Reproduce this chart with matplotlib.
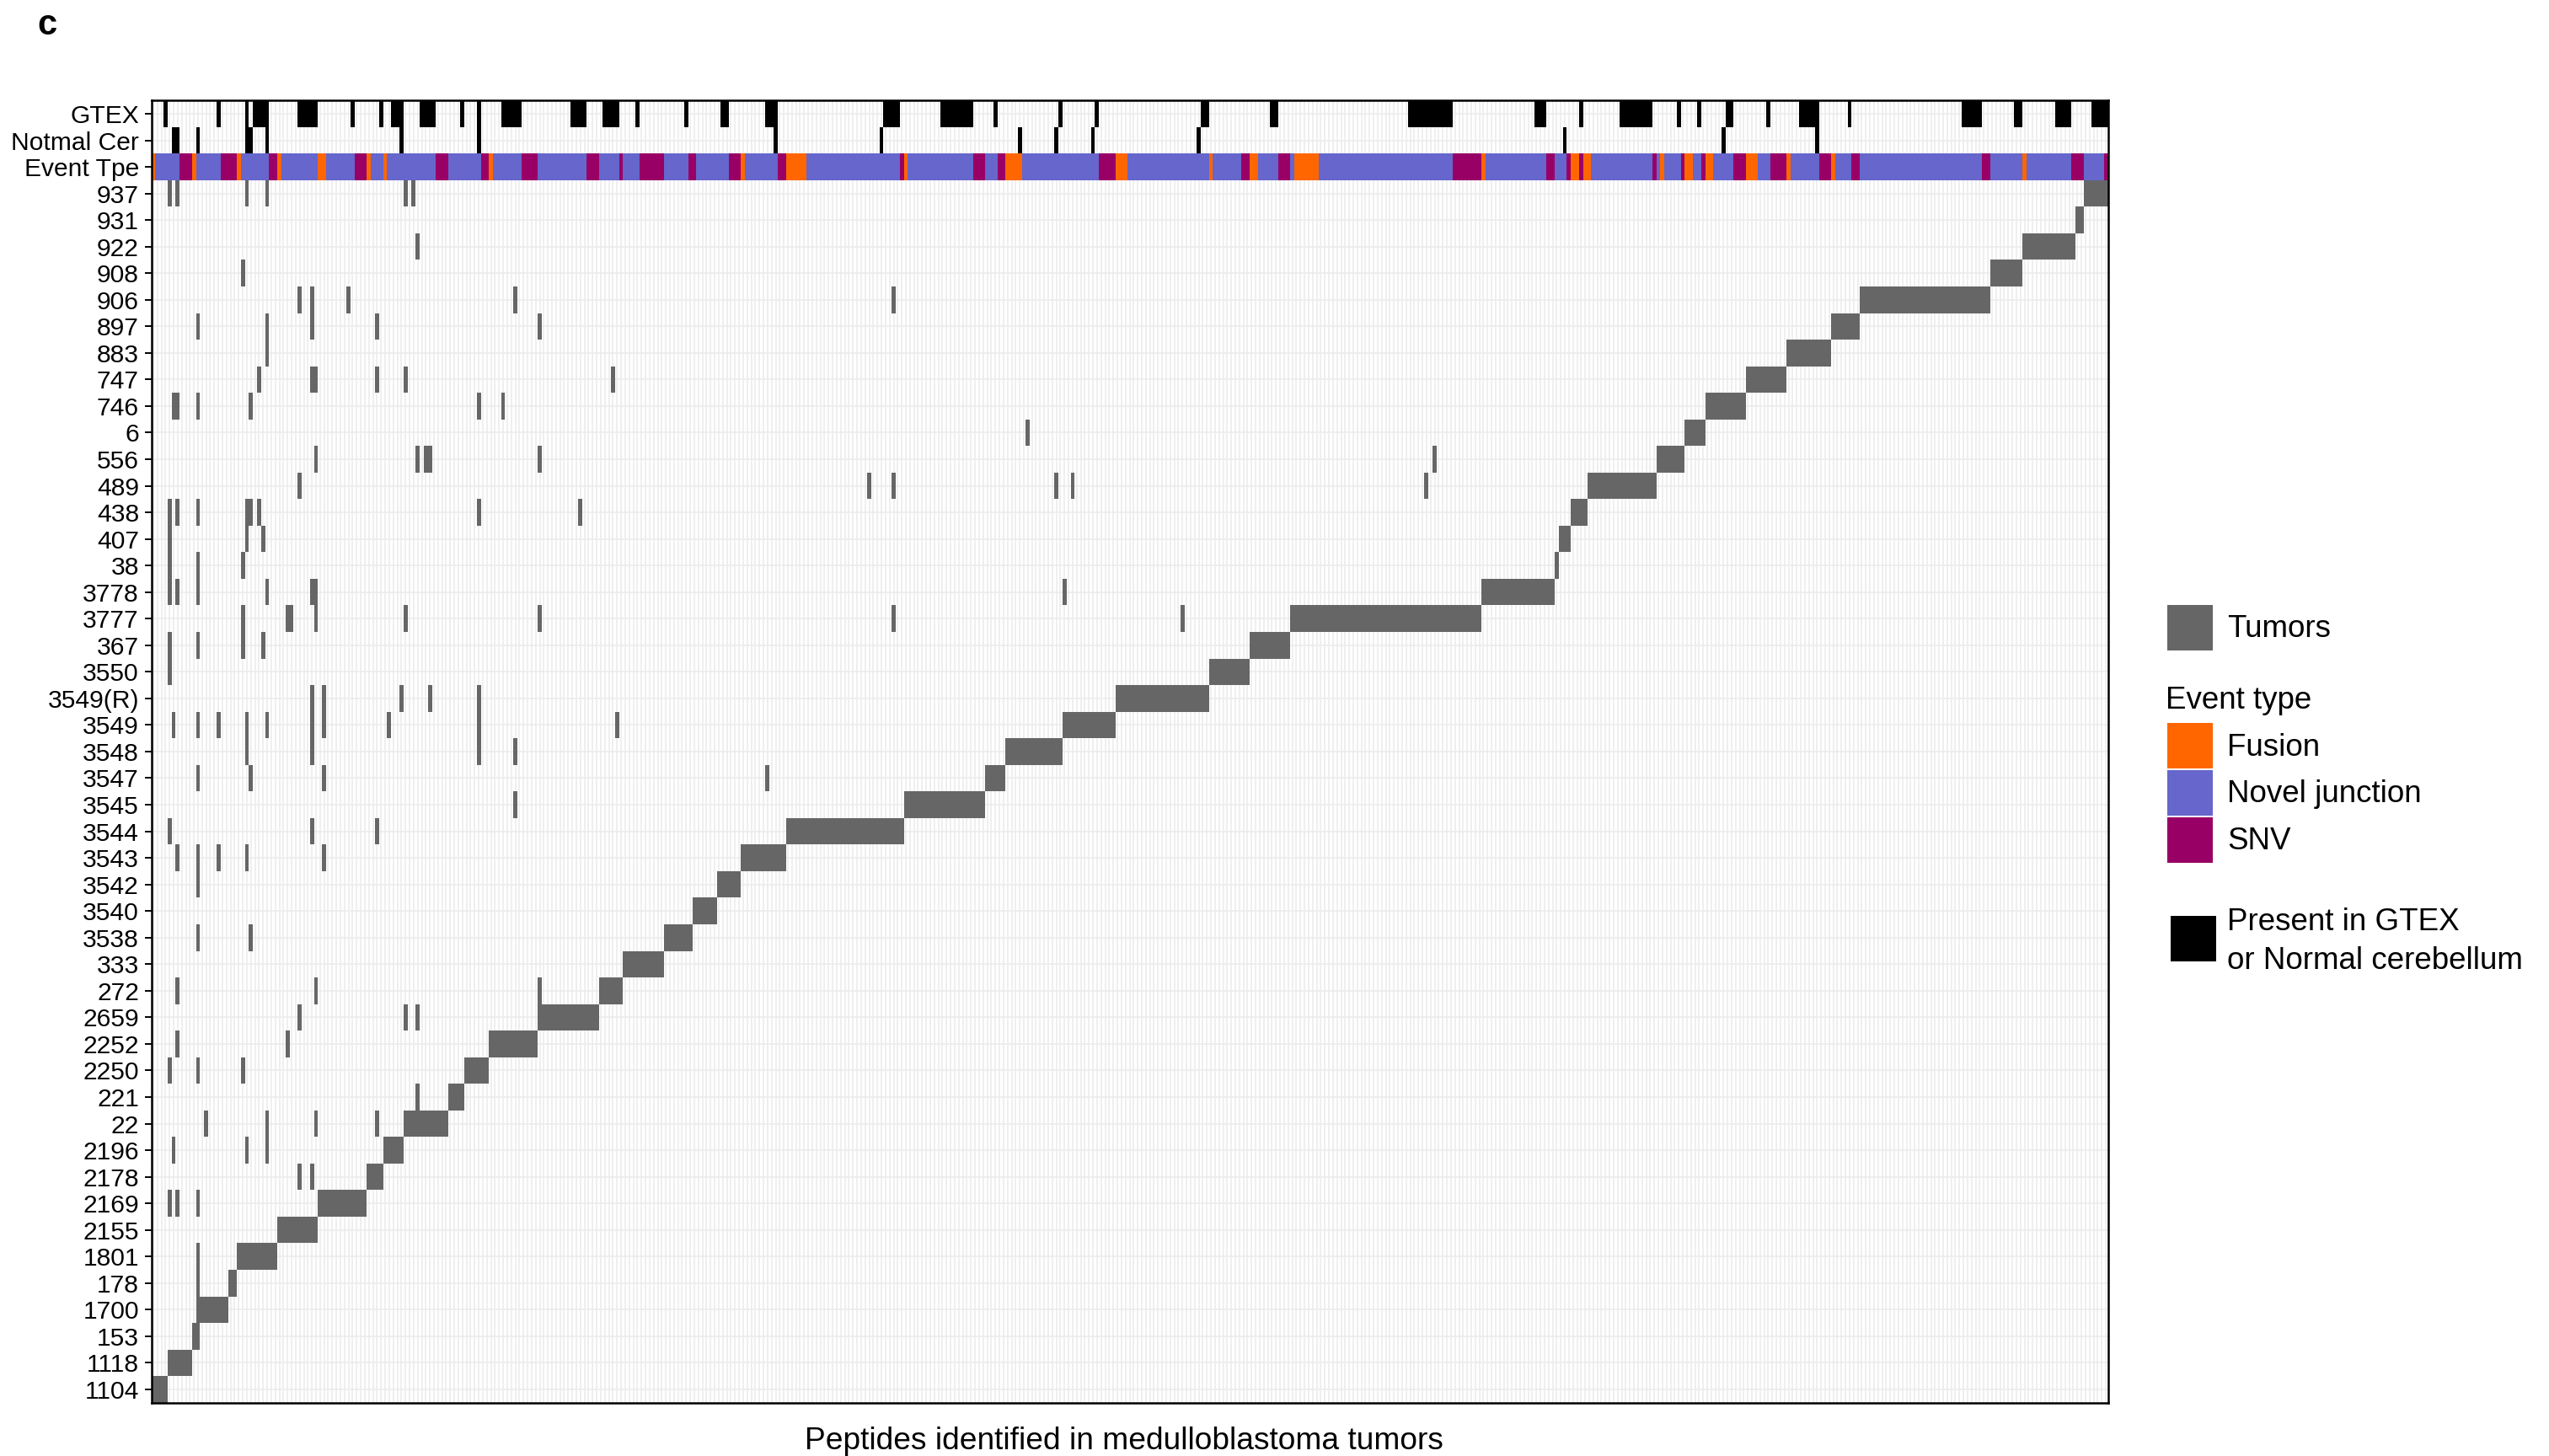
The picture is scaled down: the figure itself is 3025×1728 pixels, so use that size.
import numpy as np
import matplotlib
matplotlib.use('Agg')
import matplotlib.pyplot as plt
from matplotlib.colors import ListedColormap
from matplotlib.patches import Rectangle

plt.rcParams['font.family'] = ['Liberation Sans', 'DejaVu Sans']

# ---------------- data ----------------
n_peptides = 481

annotation_rows = ['GTEX', 'Notmal Cer', 'Event Tpe']
tumors = ['937', '931', '922', '908', '906', '897', '883', '747', '746', '6',
          '556', '489', '438', '407', '38', '3778', '3777', '367', '3550',
          '3549(R)', '3549', '3548', '3547', '3545', '3544', '3543', '3542',
          '3540', '3538', '333', '272', '2659', '2252', '2250', '221', '22',
          '2196', '2178', '2169', '2155', '1801', '178', '1700', '153',
          '1118', '1104']

# peptide runs (first, last column) private to each tumor
tumor_blocks = {
    '937': (475, 480), '931': (473, 474), '922': (460, 472), '908': (452, 459),
    '906': (420, 451), '897': (413, 419), '883': (402, 412), '747': (392, 401),
    '746': (382, 391), '6': (377, 381), '556': (370, 376), '489': (353, 369),
    '438': (349, 352), '407': (346, 348), '38': (345, 345), '3778': (327, 344),
    '3777': (280, 326), '367': (270, 279), '3550': (260, 269),
    '3549(R)': (237, 259), '3549': (224, 236), '3548': (210, 223),
    '3547': (205, 209), '3545': (185, 204), '3544': (156, 184),
    '3543': (145, 155), '3542': (139, 144), '3540': (133, 138),
    '3538': (126, 132), '333': (116, 125), '272': (110, 115),
    '2659': (95, 109), '2252': (83, 94), '2250': (77, 82), '221': (73, 76),
    '22': (62, 72), '2196': (57, 61), '2178': (53, 56), '2169': (41, 52),
    '2155': (31, 40), '1801': (21, 30), '178': (19, 20), '1700': (11, 18),
    '153': (10, 11), '1118': (4, 9), '1104': (0, 3)}

# further peptides found in each tumor (column indices)
tumor_shared = {
    '937': [4, 6, 23, 28, 62, 64],
    '922': [65],
    '908': [22],
    '906': [36, 39, 48, 89, 182],
    '897': [11, 28, 39, 55, 95],
    '883': [28],
    '747': [26, 39, 40, 55, 62, 113],
    '746': [5, 6, 11, 24, 80, 86],
    '6': [215],
    '556': [40, 65, 67, 68, 95, 315],
    '489': [36, 176, 182, 222, 226, 313],
    '438': [4, 6, 11, 23, 24, 26, 80, 105],
    '407': [4, 23, 27],
    '38': [4, 11, 22],
    '3778': [4, 6, 11, 28, 39, 40, 224],
    '3777': [22, 33, 34, 40, 62, 95, 182, 253],
    '367': [4, 11, 22, 27],
    '3550': [4],
    '3549(R)': [39, 42, 61, 68, 80],
    '3549': [5, 11, 16, 23, 28, 39, 42, 58, 80, 114],
    '3548': [23, 39, 80, 89],
    '3547': [11, 24, 42, 151],
    '3545': [89],
    '3544': [4, 39, 55],
    '3543': [6, 11, 16, 23, 42],
    '3542': [11],
    '3538': [11, 24],
    '272': [6, 40, 95],
    '2659': [36, 62, 65],
    '2252': [6, 33],
    '2250': [4, 11, 22],
    '221': [65],
    '22': [13, 28, 40, 55],
    '2196': [5, 23, 28],
    '2178': [36, 39],
    '2169': [4, 6, 11],
    '1801': [11],
    '178': [11]}

gtex_runs = [(3, 3), (16, 16), (23, 23), (25, 28), (36, 40), (49, 49), (56, 56),
             (59, 61), (66, 69), (76, 76), (80, 80), (86, 90), (103, 106),
             (111, 114), (119, 119), (131, 131), (140, 141), (151, 153),
             (180, 183), (194, 201), (207, 207), (223, 223), (232, 232),
             (258, 259), (275, 276), (309, 319), (340, 342), (351, 351),
             (361, 368), (375, 375), (380, 380), (387, 388), (397, 397),
             (405, 409), (417, 417), (445, 449), (458, 459), (468, 471),
             (477, 480)]
normal_cer_cols = [5, 6, 11, 23, 24, 28, 61, 80, 153, 179, 213, 222, 231,
                   257, 347, 386, 409]

# event type: novel junction unless listed as fusion or SNV
fusion_runs = [(0, 0), (10, 10), (21, 21), (31, 31), (41, 42), (53, 53),
               (57, 57), (83, 83), (145, 145), (156, 160), (185, 185),
               (210, 213), (237, 239), (260, 260), (270, 271), (281, 286),
               (327, 327), (349, 350), (352, 353), (371, 371), (377, 378),
               (382, 383), (392, 394), (402, 402), (413, 413), (460, 460)]
snv_runs = [(7, 9), (17, 20), (29, 30), (50, 52), (70, 72), (81, 82), (91, 94),
            (107, 109), (115, 115), (120, 125), (132, 133), (142, 144),
            (154, 155), (184, 184), (202, 204), (208, 209), (233, 236),
            (268, 269), (277, 279), (320, 326), (343, 344), (348, 348),
            (351, 351), (369, 369), (376, 376), (381, 381), (389, 391),
            (398, 401), (410, 412), (418, 419), (450, 451), (472, 474),
            (480, 480)]

event_names = ['Fusion', 'Novel junction', 'SNV']
event_colors = ['#FF6600', '#6666CC', '#990066']
tumor_color = '#666666'
present_color = '#000000'

# ---------------- build matrix ----------------
row_labels = annotation_rows + tumors
n_rows = len(row_labels)
M = np.full((n_rows, n_peptides), np.nan)
# code: 0 present, 1 fusion, 2 novel junction, 3 SNV, 4 tumor
for a, b in gtex_runs:
    M[0, a:b + 1] = 0
M[1, normal_cer_cols] = 0
M[2, :] = 2
for a, b in fusion_runs:
    M[2, a:b + 1] = 1
for a, b in snv_runs:
    M[2, a:b + 1] = 3
for i, t in enumerate(tumors):
    r = i + len(annotation_rows)
    a, b = tumor_blocks[t]
    M[r, a:b + 1] = 4
    for c in tumor_shared.get(t, []):
        M[r, c] = 4

cmap = ListedColormap([present_color] + event_colors + [tumor_color])

# ---------------- figure ----------------
W, H = 3025, 1728
fig = plt.figure(figsize=(W / 100, H / 100), dpi=100)
x0, x1 = 179.5, 2501.5
y0, y1 = 119.2, 1664.7
ax = fig.add_axes([x0 / W, 1 - y1 / H, (x1 - x0) / W, (y1 - y0) / H])

ax.pcolormesh(np.arange(n_peptides + 1), np.arange(n_rows + 1),
              np.ma.masked_invalid(M), cmap=cmap, vmin=-0.5, vmax=4.5,
              zorder=2)
ax.set_xlim(0, n_peptides)
ax.set_ylim(n_rows, 0)
ax.set_xticks(np.arange(n_peptides) + 0.5)
ax.set_xticklabels([])
ax.set_yticks(np.arange(n_rows) + 0.5)
ax.set_yticklabels(row_labels, fontsize=21.6)
ax.tick_params(axis='x', length=0)
ax.tick_params(axis='y', length=5.5, width=1.4, pad=5, color='black')
ax.grid(True, color='#EBEBEB', linewidth=1.1, zorder=0)
ax.set_axisbelow(True)
for s in ax.spines.values():
    s.set_linewidth(1.8)
    s.set_color('black')
ax.set_xlabel('Peptides identified in medulloblastoma tumors', fontsize=26.7,
              labelpad=17)
ax.xaxis.label.set_x(0.497)

fig.text(44 / W, 1 - 30 / H, 'c', fontsize=30, fontweight='bold',
         va='center', ha='left')

# ---------------- legend ----------------
def key(xp, yp, color, size=54):
    fig.add_artist(Rectangle((xp / W, 1 - (yp + size) / H), size / W, size / H,
                             facecolor=color, edgecolor='none',
                             transform=fig.transFigure))

fs = 26.5
key(2572, 718, tumor_color)
fig.text(2643 / W, 1 - 746 / H, 'Tumors', fontsize=fs, va='center')
fig.text(2570 / W, 1 - 832 / H, 'Event type', fontsize=fs, va='center')
for k, (nm, col) in enumerate(zip(event_names, event_colors)):
    yy = 858 + k * 56
    key(2572, yy, col)
    fig.text(2643 / W, 1 - (yy + 29) / H, nm, fontsize=fs, va='center')
key(2576, 1087, present_color)
fig.text(2643 / W, 1 - 1095 / H, 'Present in GTEX', fontsize=fs, va='center')
fig.text(2643 / W, 1 - 1140 / H, 'or Normal cerebellum', fontsize=fs,
         va='center')

fig.savefig('out.png', dpi=100, facecolor='white')
